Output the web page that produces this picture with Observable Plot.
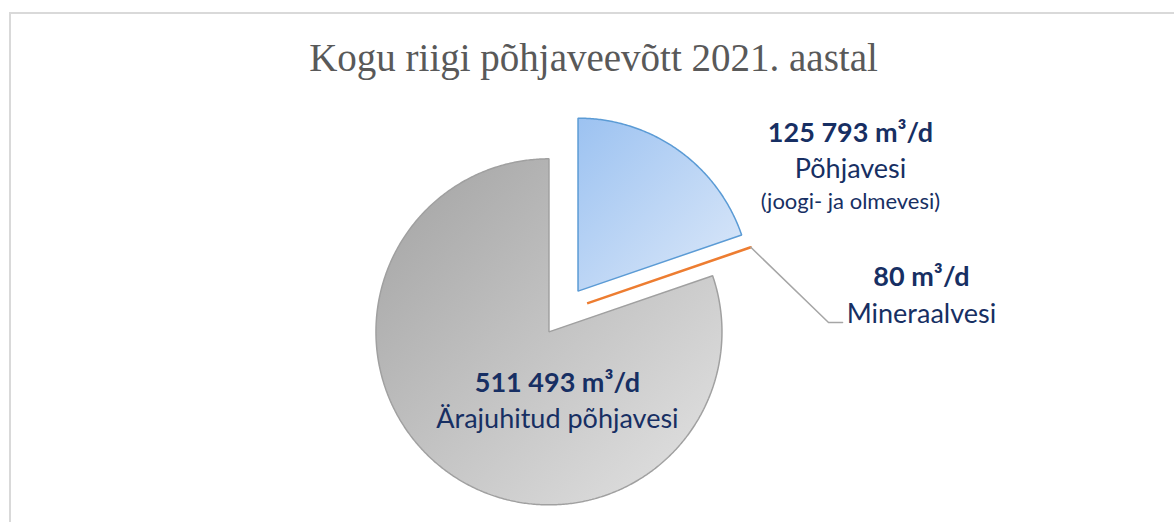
<!DOCTYPE html>
<html>
<head>
<meta charset="utf-8">
<script src="https://cdn.jsdelivr.net/npm/d3@7"></script>
<script src="https://cdn.jsdelivr.net/npm/@observablehq/plot@0.6"></script>
<style>
  body { margin: 0; background: #fff; }
  #wrap { position: relative; width: 1174px; height: 522px; overflow: hidden; background: #fff; }
  #frame { position: absolute; left: 9px; top: 12px; width: 1300px; height: 700px;
           border-left: 2px solid #d9d9d9; border-top: 2px solid #d9d9d9; }
  #title { position: absolute; left: 0; top: 38px; width: 1187px; text-align: center;
           font-family: "Liberation Serif", "Times New Roman", serif; font-size: 39px; line-height: 39px;
           color: #595959; }
  #chart { position: absolute; left: 0; top: 90px; }
</style>
</head>
<body>
<div id="wrap">
  <div id="frame"></div>
  <div id="title">Kogu riigi põhjaveevõtt 2021. aastal</div>
  <div id="chart"></div>
</div>
<script>
// ---- data ----
const categories = ["Põhjavesi", "Mineraalvesi", "Ärajuhitud põhjavesi"];
const values = [125793, 80, 511493];
const subLabels = ["(joogi- ja olmevesi)", "", ""];
const unit = " m³/d";

// ---- styling / layout (not data) ----
const fills = ["url(#gradBlue)", "#ed7d31", "url(#gradGray)"];
const strokes = ["#5b9bd5", "#ed7d31", "#a0a0a0"];
const strokeWidths = [1.5, 2.5, 1.5];
const W = 1174, H = 432, R = 173, CX = 563, CY = 221;
const explode = 25 / R;
// label anchors in radius units relative to pie centre (y up)
const labelX = [1.659, 2.069, -0.035];
const labelY = [[0.977, 0.769, 0.595], [0.150, -0.064, 0], [-0.468, -0.671, 0]];
const leaderElbow = [1.532, -0.064];
const leaderEnd = [1.613, -0.064];

const fmt = d3.formatLocale({decimal: ",", thousands: "\u00a0", grouping: [3], currency: ["", ""]}).format(",d");

const arcs = d3.pie().sort(null).value(d => d)(values);

// slice polygons
const polys = [];
arcs.forEach((a, i) => {
  const mid = (a.startAngle + a.endAngle) / 2;
  const ox = explode * Math.sin(mid), oy = explode * Math.cos(mid);
  polys.push({slice: i, x: ox, y: oy});
  const n = Math.max(2, Math.ceil((a.endAngle - a.startAngle) / (Math.PI / 360)));
  for (let k = 0; k <= n; k++) {
    const t = a.startAngle + (a.endAngle - a.startAngle) * k / n;
    polys.push({slice: i, x: ox + Math.sin(t), y: oy + Math.cos(t)});
  }
});

// leader line for the tiny slice
const ma = arcs[1];
const mmid = (ma.startAngle + ma.endAngle) / 2;
const leader = [
  {x: (1 + explode) * Math.sin(mmid), y: (1 + explode) * Math.cos(mmid)},
  {x: leaderElbow[0], y: leaderElbow[1]},
  {x: leaderEnd[0], y: leaderEnd[1]}
];

// labels
const labels = [];
categories.forEach((c, i) => {
  labels.push({x: labelX[i], y: labelY[i][0], text: fmt(values[i]) + unit, kind: "value"});
  labels.push({x: labelX[i], y: labelY[i][1], text: c, kind: "name"});
  if (subLabels[i]) labels.push({x: labelX[i], y: labelY[i][2], text: subLabels[i], kind: "sub"});
});

const font = "Lato, 'Open Sans', sans-serif";
const textColor = "#172f63";
const sliceMarks = arcs.map((a, i) =>
  Plot.line(polys.filter(d => d.slice === i), {x: "x", y: "y", curve: "linear-closed",
    fill: fills[i].startsWith("url") ? () => fills[i] : fills[i],
    stroke: strokes[i], strokeWidth: strokeWidths[i], strokeLinejoin: "miter"}));

const plot = Plot.plot({
  width: W, height: H,
  margin: 0,
  style: {background: "transparent", overflow: "visible"},
  x: {domain: [-CX / R, (W - CX) / R], axis: null},
  y: {domain: [-(H - CY) / R, CY / R], axis: null},
  color: {type: "identity"},
  marks: [
    ...sliceMarks,
    Plot.line(leader, {x: "x", y: "y", stroke: "#a6a6a6", strokeWidth: 1.5}),
    Plot.text(labels.filter(d => d.kind === "value"), {x: "x", y: "y", text: "text", lineAnchor: "bottom",
      fontFamily: font, fontSize: 27, fontWeight: "bold", fill: textColor}),
    Plot.text(labels.filter(d => d.kind === "name"), {x: "x", y: "y", text: "text", lineAnchor: "bottom",
      fontFamily: font, fontSize: 27, fill: textColor}),
    Plot.text(labels.filter(d => d.kind === "sub"), {x: "x", y: "y", text: "text", lineAnchor: "bottom",
      fontFamily: font, fontSize: 22, fill: textColor})
  ]
});

const defs = d3.select(plot).insert("defs", ":first-child");
const gB = defs.append("linearGradient").attr("id", "gradBlue").attr("x1", 0).attr("y1", 0).attr("x2", 1).attr("y2", 1);
gB.append("stop").attr("offset", 0).attr("stop-color", "#9cc2f1");
gB.append("stop").attr("offset", 1).attr("stop-color", "#dde9f9");
const gG = defs.append("linearGradient").attr("id", "gradGray").attr("x1", 0).attr("y1", 0).attr("x2", 1).attr("y2", 1);
gG.append("stop").attr("offset", 0).attr("stop-color", "#a2a2a2");
gG.append("stop").attr("offset", 1).attr("stop-color", "#e4e4e4");

document.getElementById("chart").appendChild(plot);
</script>
</body>
</html>
